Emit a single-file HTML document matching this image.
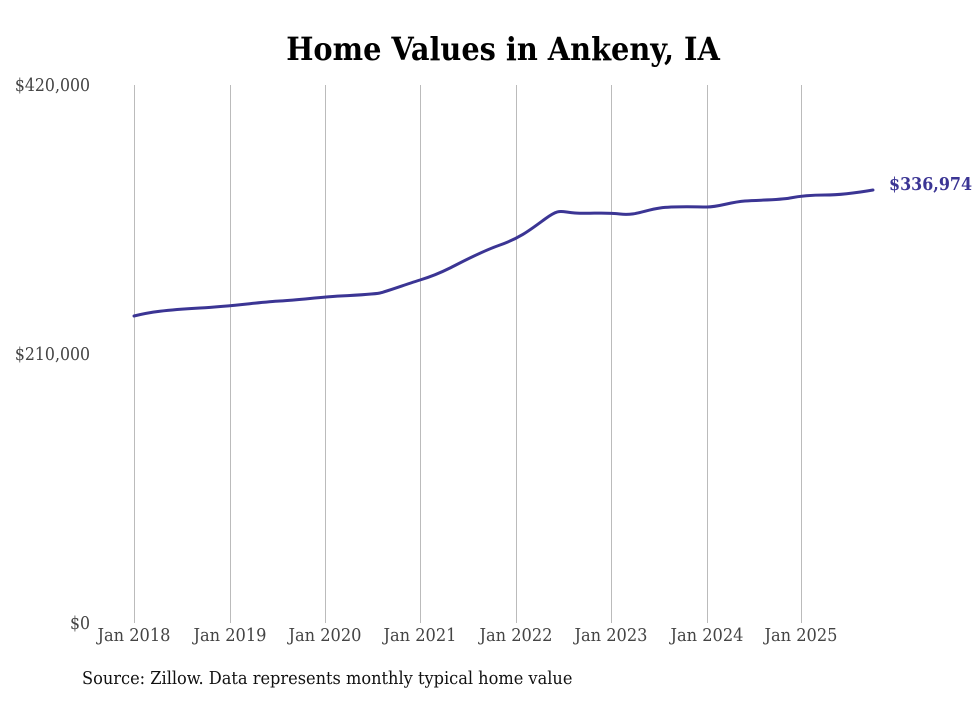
<!DOCTYPE html>
<html><head><style>
body{margin:0;background:#fff;}
svg text{font-family:"DejaVu Serif","Liberation Serif",serif;font-stretch:condensed;}
</style></head><body>
<svg width="980" height="699" viewBox="0 0 980 699" xmlns="http://www.w3.org/2000/svg">
<rect width="980" height="699" fill="#fff"/>
<text x="503" y="60" text-anchor="middle" font-size="32" font-weight="bold" fill="#000">Home Values in Ankeny, IA</text>
<g stroke="#bbb" stroke-width="1">
<line x1="134.5" y1="85" x2="134.5" y2="623"/>
<line x1="230.5" y1="85" x2="230.5" y2="623"/>
<line x1="325.5" y1="85" x2="325.5" y2="623"/>
<line x1="420.5" y1="85" x2="420.5" y2="623"/>
<line x1="516.5" y1="85" x2="516.5" y2="623"/>
<line x1="611.5" y1="85" x2="611.5" y2="623"/>
<line x1="707.5" y1="85" x2="707.5" y2="623"/>
<line x1="801.5" y1="85" x2="801.5" y2="623"/>
</g>
<g font-size="17.5" fill="#444">
<text x="90" y="91" text-anchor="end">$420,000</text>
<text x="90" y="360" text-anchor="end">$210,000</text>
<text x="90" y="629" text-anchor="end">$0</text>
</g>
<g font-size="18" fill="#444" text-anchor="middle">
<text x="134" y="641">Jan 2018</text>
<text x="230" y="641">Jan 2019</text>
<text x="325" y="641">Jan 2020</text>
<text x="420" y="641">Jan 2021</text>
<text x="516" y="641">Jan 2022</text>
<text x="611" y="641">Jan 2023</text>
<text x="707" y="641">Jan 2024</text>
<text x="801" y="641">Jan 2025</text>
</g>
<path fill="none" stroke="#3b3594" stroke-width="3" stroke-linecap="round"
d="M134,316 C150,312 165,310 200,308 S260,302 280,301 S320,297 340,296 S375,294 380,293 S410,283 420,280 S440,273 450,268 S480,252 500,245 S530,230 545,219 S560,212 575,213 S605,212 620,214 S645,210 660,208 S695,207 707,207 S730,202 745,201 S780,200 790,198 S815,195 825,195 S850,194 873,190"/>
<text x="889" y="190" font-size="17.7" font-weight="bold" fill="#3b3594">$336,974</text>
<text x="82" y="684" font-size="18" fill="#111">Source: Zillow. Data represents monthly typical home value</text>
</svg>
</body></html>
